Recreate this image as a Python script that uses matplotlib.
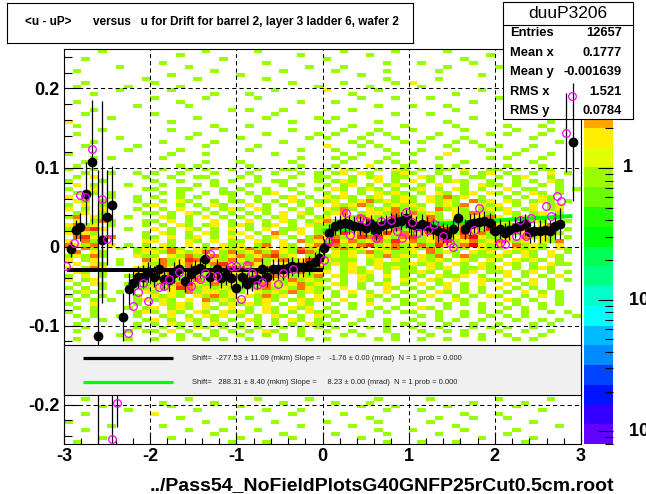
import colorsys
import numpy as np
import matplotlib
matplotlib.use('Agg')
import matplotlib.pyplot as plt
from matplotlib.colors import ListedColormap, BoundaryNorm
from matplotlib.patches import Rectangle
from matplotlib.lines import Line2D
from matplotlib.ticker import MultipleLocator, FuncFormatter

W, H = 646, 494

# ── profile points (black, filled) ─────────────────────────────────────────
blk_x = [-2.92, -2.86, -2.81, -2.74, -2.67, -2.61, -2.56, -2.50, -2.44,
         -2.31, -2.25, -2.20, -2.14, -2.08, -2.02,
         -1.95, -1.90, -1.84, -1.78, -1.72, -1.66,
         -1.59, -1.53, -1.48, -1.42, -1.36, -1.30,
         -1.23, -1.18, -1.12, -1.06, -1.00,
         -0.94, -0.88, -0.82, -0.76, -0.70,
         -0.64, -0.58, -0.52, -0.46, -0.40,
         -0.35, -0.29, -0.23, -0.16, -0.09, -0.04,
         0.02, 0.08, 0.14, 0.20, 0.26,
         0.31, 0.37, 0.43, 0.50, 0.56,
         0.62, 0.68, 0.74, 0.79, 0.85,
         0.91, 0.97,
         1.03, 1.09, 1.15, 1.21, 1.28,
         1.34, 1.40, 1.45, 1.51, 1.57,
         1.65, 1.71, 1.76, 1.82, 1.88,
         1.94, 2.00, 2.06, 2.12, 2.17,
         2.23, 2.29, 2.35, 2.41, 2.46,
         2.52, 2.58, 2.64, 2.70, 2.76,
         2.91]
blk_y = [-0.003, 0.021, 0.025, 0.067, 0.107, -0.113, 0.008, 0.037, 0.052,
         -0.089, -0.054, -0.046, -0.039, -0.038, -0.032,
         -0.038, -0.028, -0.041, -0.043, -0.033, -0.029,
         -0.044, -0.035, -0.030, -0.027, -0.016, -0.039,
         -0.029, -0.040, -0.036, -0.040, -0.052,
         -0.039, -0.047, -0.043, -0.041, -0.028,
         -0.038, -0.029, -0.028, -0.029, -0.027,
         -0.025, -0.026, -0.026, -0.024, -0.019, -0.014,
         -0.002, 0.017, 0.026, 0.028, 0.030,
         0.028, 0.026, 0.026, 0.024, 0.028,
         0.020, 0.026, 0.028, 0.030, 0.031,
         0.032, 0.036,
         0.028, 0.026, 0.028, 0.026, 0.022,
         0.019, 0.017, 0.015, 0.022, 0.036,
         0.022, 0.028, 0.030, 0.031, 0.032,
         0.030, 0.019, 0.022, 0.017, 0.021,
         0.024, 0.026, 0.028, 0.018, 0.019,
         0.019, 0.021, 0.019, 0.026, 0.029,
         0.132]
blk_err = [0.010, 0.012, 0.018, 0.040, 0.078, 0.210, 0.080, 0.060, 0.050,
           0.030, 0.020, 0.016, 0.014, 0.014, 0.013,
           0.013, 0.013, 0.013, 0.013, 0.013, 0.013,
           0.013, 0.013, 0.013, 0.013, 0.013, 0.013,
           0.013, 0.013, 0.013, 0.013, 0.013,
           0.013, 0.013, 0.013, 0.013, 0.013,
           0.013, 0.013, 0.013, 0.013, 0.013,
           0.012, 0.012, 0.012, 0.012, 0.012, 0.012,
           0.012, 0.012, 0.012, 0.012, 0.012,
           0.012, 0.012, 0.012, 0.012, 0.012,
           0.012, 0.012, 0.012, 0.012, 0.012,
           0.012, 0.012,
           0.013, 0.013, 0.013, 0.013, 0.013,
           0.013, 0.013, 0.013, 0.013, 0.015,
           0.013, 0.013, 0.013, 0.013, 0.013,
           0.013, 0.013, 0.013, 0.013, 0.013,
           0.013, 0.013, 0.013, 0.013, 0.013,
           0.014, 0.014, 0.014, 0.016, 0.020,
           0.075]

# ── second profile (magenta, open) ─────────────────────────────────────────
mag_x = [-2.98, -2.88, -2.81, -2.76, -2.68, -2.56, -2.50, -2.44, -2.39, -2.26,
         -2.20, -2.14, -2.08, -2.02, -1.90, -1.84, -1.78, -1.67, -1.53, -1.42,
         -1.36, -1.30, -1.23, -1.06, -1.00, -0.945, -0.875, -0.82, -0.76, -0.70,
         -0.52, -0.46, -0.345,
         0.02, 0.08, 0.27, 0.32, 0.44, 0.50, 0.62, 0.68, 0.79, 0.86,
         0.92, 0.97, 1.04, 1.10, 1.22, 1.29, 1.40, 1.48, 1.52, 1.76,
         1.82, 2.06, 2.12, 2.24, 2.29, 2.36, 2.42, 2.59, 2.65, 2.72,
         2.77, 2.83, 2.90]
mag_y = [-0.025, 0.005, 0.065, 0.063, 0.124, 0.060, 0.010, -0.244, -0.198, -0.110,
         -0.075, -0.058, -0.046, -0.069, -0.051, -0.050, -0.041, -0.032, -0.050, -0.041,
         -0.033, -0.010, -0.037, -0.025, -0.025, -0.067, -0.024, -0.033, -0.049, -0.045,
         -0.048, -0.033, -0.029,
         -0.017, 0.007, 0.043, 0.015, 0.036, 0.032, 0.011, 0.032, 0.034, 0.019,
         0.011, 0.044, 0.031, 0.017, 0.021, 0.029, 0.013, 0.004, 0.000, 0.021,
         0.049, 0.004, 0.003, 0.013, 0.034, 0.013, 0.036, 0.051, 0.038, 0.064,
         0.058, 0.144, 0.191]
mag_err = [0.0, 0.0, 0.0, 0.0, 0.0, 0.124, 0.0, 0.060, 0.030, 0.0,
           0.0, 0.0, 0.0, 0.0, 0.0, 0.0, 0.0, 0.0, 0.0, 0.0,
           0.0, 0.0, 0.0, 0.0, 0.0, 0.0, 0.0, 0.0, 0.0, 0.0,
           0.0, 0.0, 0.0,
           0.0, 0.0, 0.0, 0.0, 0.0, 0.0, 0.0, 0.0, 0.0, 0.0,
           0.0, 0.0, 0.0, 0.0, 0.0, 0.0, 0.0, 0.0, 0.0, 0.0,
           0.0, 0.0, 0.0, 0.0, 0.0, 0.0, 0.0, 0.0, 0.0, 0.0,
           0.0, 0.050, 0.0]

# fit lines (as drawn)
fit_black_x = [-2.97, 0.0]
fit_black_y = [-0.0292, -0.0292]
fit_green_x = [0.0, 2.90]
fit_green_y = [0.0203, 0.0386]

legend_lines = [
    "Shift=  -277.53 \u00b1 11.09 (mkm) Slope =    -1.76 \u00b1 0.00 (mrad)  N = 1 prob = 0.000",
    "Shift=   288.31 \u00b1 8.40 (mkm) Slope =     8.23 \u00b1 0.00 (mrad)  N = 1 prob = 0.000",
]

stats_title = "duuP3206"
stats_names = ["Entries", "Mean x", "Mean y", "RMS x", "RMS y"]
stats_values = ["12657", "0.1777", "-0.001639", "1.521", "0.0784"]

x_ticks = [-3, -2, -1, 0, 1, 2, 3]
y_ticks = [-0.2, -0.1, 0.0, 0.1, 0.2]
z_labels = ["1", "10$^{-1}$", "10$^{-2}$"]
z_label_vals = [1.0, 0.1, 0.01]

# 2D histogram contents, x bins of 0.1 (-3..3), y bins of 0.005 (0.25 -> -0.25)
# '.' empty, digits = bin content
rows_top = [
    "....1..... ......1... ..1....... ..1.....1. ....1..... ..1.......",
    ".......... ...1...... .......1.. .....1.... .........1 .1........",
    "..1....... ........1. .......... 1......... ......1... ....1.1...",
    ".......... .1........ ...1...... .......1.. .1.....1.. .....1....",
    "......1... ....1..... ........1. ..1....... ....1..... 1.........",
    ".1........ .......1.. .....1.... .1.....1.. ...1...... .......1..",
    ".......... ..1....... 1......... ....1..... ........1. ..1.......",
    ".........1 .....1.... ...1...... .......1.. ...1...... .1........",
    "..1....... 1......... ......1... ..1.....1. 2......... ....1.....",
    ".1.....1.. ...1...... .........1 .....1.... .1........ .......1..",
    "......1... ..1....... ....1..... 2.....1... ........1. ..1.......",
    "...1...... .......1.. .1........ ...1...... .....1.... .......1..",
    ".......... 1.....1... ..1....... ....1...1. ..1....... 1.........",
    ".1........ ...1...... .......1.. .1........ .......1.. ...1...1..",
    "........1. ....1..... .......... ......1... 1...1..... ......1...",
    "...1...... .........1 .1...1.... ...1...... .....1.... .1........",
    "..1....... 1......... ....1..... ........1. ..1....... ....1.....",
    ".....1.... .....1.... ...1.....1 .1........ .......1.. ...1......",
    "2......... ..1....... ......1... 1.....1... ....1..... ......1...",
    ".1........ .......1.. .1........ ...1.....1 .....1.... .1...1....",
    "....1..... ..1.....1. ......1... ..1...1... 1.....1... ..1...1...",
    ".1........ .....1.... ...1.....1 .1...1.1.. ...1.....1 .1...1....",
    "......1... ....1..... 1.......1. 1...1...1. ..1...1... ....1.....",
    "...1...... .1.....1.. .....1.... ...1.1...1 .1...1.1.. .......1..",
    "..1.....1. ......1... ..1....... 2...1.1... ....1...1. 1...1.....",
    ".......1.. ...1...... .1.....1.. .1.....1.. .1...1...1 ...1......",
    "1......... ..1...1... ....1..... ..1.1...1. 1...2..... ..1...1...",
    "...1.1.... .1........ .......1.. .1.1...1.. ...1.....1 .1...1....",
    "..1....... ......1... 1.....1... ..1...1.1. 1.....1... ....1.....",
    ".1........ ...1.1.... .1.....1.. .1...2...1 ...1.1.... .1...1....",
    "1..1...... .1..1.1..1 ..1..11... 1.21..1.21 .1.11.2..1 1.1..11...",
    "..1..1..1. 1..1...1.. .1..1..1.1 .12.21..12 1..1..1.12 .1..1.2.1.",
    ".1.2.....1 ..1..11... 1.1...1..1 1..1.12.11 .21.1..11. 1.12..1...",
    "1...1..... 1..1...1.1 ..1.11...1 .121..2.1. 2.1.121..1 ..1.1.21..",
    ".2.1...1.. .1...1.1.. .1...1.1.. 1.12.1.121 .1.2..1.21 1.1..1.1..",
    "1..2.....1 1..11...1. 1..1..1..1 .21.121.1. 12.1.21.1. .2.11..1.1",
    ".1.1.1.... .1.1..1.11 .1.12..1.. 1.2.1.2121 .1.21.12.2 1.1.21.1..",
    "2.1..1..1. 1..1.1...1 ..1..12.1. 2121.12.12 1.21312.1. .1.1.21...",
    ".21.1...1. .1.21..1.1 1.1.1.21.1 12.1231212 1.2121.312 .21.121.1.",
    "1.2.1....1 2..1.1.21. .2.1.1.1.2 .21231.121 21.1213.21 2.1.2.12..",
    "2.1.2...1. .1.2..1.12 1.21..1.1. 2131.21231 12.3121.12 12.12.12..",
    ".12.1....1 1.1.21.1.1 .1.1.2.21. 123.122131 3121.21321 .21.12.1..",
    "13.21..1.. .21.1.2.1. 1.1.12.1.1 2.21321251 2131.21223 2.1212.1..",
    ".2.131...1 1.2.1..2.1 .2.1.21.12 3121251231 12312.2131 12.121.21.",
    "2312.1...1 .1.21.12.1 21.12.1.21 1235123512 3125123213 2131.231..",
    "1.352..1.. 2.1.21.1.2 .1.2.112.1 2312371231 2312513215 12.3121.1.",
    "2321.....1 .21.1.21.1 2.1.31.2.1 3152312513 1232315231 2312.131..",
    ".35213...1 1.2.12.1.2 .2.12.1.13 2312535213 5123123721 12.3121.1.",
    "2.315....2 2.1.21.2.1 1.21.2.312 1523123152 3123512312 3212.213..",
    "3213.2.1.1 .21.2.1.21 2.13.21.23 5312351231 2315213721 2.3121.2..",
    "2.31..1.12 1231.21321 2312.21312 21312.2131 2131.21.21 1.2121.21.",
    ".3.21...12 2132123.13 1231321531 .212131211 2.3121.212 .2121.2.1.",
    "12131...21 1.21312312 3123512.12 1212.21312 1213.13111 21.21.21..",
    "2.12..1..3 2312531213 2131231253 2111.12.21 .2121.21.2 1.2121.1..",
    ".2.21.1..2 1312321352 1321.21312 1212.12111 2121.21.21 .21.1.211.",
    "2.132...21 2321312135 3123121323 1.121.2121 1.212.1121 2.1.121...",
    ".21.1...21 3132151312 2131251312 2.1212.1.1 121.1.12.1 12.12.1.1.",
    "1.2.1..1.2 1231321312 3121321213 .21.21.2.1 .1.2112.1. .2.1.1.2..",
    "2.12....12 2131231213 2131213121 1.1.21.1.2 1.21.2..21 1.1.2.1.1.",
    ".1.21..1.1 1213521312 1213212312 .21.1.12.1 .2.12.1.2. .2.12.1...",
    "1.1.1...11 2125312121 1213121321 1.2.1..21. 1.1.2.1.1. 2.1.1.1...",
    ".121..1..2 1.21312212 1.21213121 .1.2.1.2.1 .1.21.1.1. .1.2.1.1..",
    "1.1.1...1. 2121.21312 .21312.1.2 .1.1.21.1. 1.2..1.1.2 1..1.2.1..",
    ".1.1.1..12 121.2.3121 2.121.1212 1.2..1.1.1 .1.1.21... .21.1..1..",
    "1..2....1. .2121.2.12 1212.1.21. .1.1.2...1 1...1.1.1. 1.1..1.1..",
    ".1.1...1.1 2.121.21.2 .1.21.212. 1..1..1.1. .21.1...1. .1.1.1....",
    "1..1....12 1.21.21.21 21.21.1.21 .1...1.1.1 1..1..1.1. 1..1..1.1.",
    ".1.1..1.1. .12.1.212. 1.1.21.1.2 1.1..1.... .1.1..1..1 .1.1.....1",
    "..1.1....1 2.1.21.1.1 .21.1.21.1 .1..1..1.. 1..1.1..1. ..1..1.1..",
    ".1......1. 1.21.1.21. 1.1.1.1.21 1..1...1.1 .1..1..1.. 1...1.1...",
    "..1.....1. .1.1.21.1. 1.1..1.1.1 .1...1.1.. 1..1...1.1 .1..1.....",
    ".1.....1.1 1.2.1..1.1 .1.21..1.. 1..1...1.. .1..1.1... 1..1..1...",
    "......1... .1.1.1.1.. 1..1.1.1.. ..1.1...1. ..1...1.1. .1...1....",
    ".1.....1.. 1..1..1.1. .1...1..1. 1.....1.1. .1..1...1. ..1.1.....",
]
n_hidden_rows = 14   # behind the fit legend
rows_bottom = [
    "..1....... ....1..... ..1.....1. ......1... ..1....... 1.....1...",
    ".......... .1.....1.. .....1.... .1...1.... .......1.. ...1......",
    "....1..... ..1....... 1......... ....1...1. ....1..... ..1.......",
    ".......1.. .....1.... ...1...1.. .......1.. .1........ .....1....",
    "..1....... 2......... ......1... ..1....... ......1... 1.........",
    ".......... ...1.....1 .1........ .....1.... ...1...1.. .1........",
    "1......... ......1... ....1..... 1.....1... ..1....... ....1.....",
    ".....1.... .1........ .......1.. ...1...... .....1.... .......1..",
    "..1....... ....1...1. ..1....... ......1... 1.....1... ..1.......",
    ".......... .......1.. .....1.... .1.....1.. ...1...... .1........",
    "....1..... ..1....... 1.....1... ....1..... ........1. ....1.....",
    ".1........ .........1 ...1...... .......1.. .1...1.... ...1......",
]

plt.rcParams['font.family'] = ['Liberation Sans', 'DejaVu Sans']
plt.rcParams['axes.unicode_minus'] = False


def px_box(x0, y0, x1, y1):
    return [x0 / W, 1 - y1 / H, (x1 - x0) / W, (y1 - y0) / H]


fig = plt.figure(figsize=(W / 100, H / 100), dpi=100)
fig.patch.set_facecolor('white')

ax = fig.add_axes(px_box(64, 49, 581, 444))
ax.set_zorder(2)
cax = fig.add_axes(px_box(584, 49, 613, 444))
cax.set_zorder(1)

# ROOT "pretty palette", 20 contour levels on log z
n_lev = 20
colors = []
for j in range(n_lev):
    idx = int((j + 0.99) * 50 / n_lev)
    hue = 280 - (idx + 1) * 280 / 50
    colors.append(colorsys.hls_to_rgb(hue / 360, 0.5, 1.0))
cmap = ListedColormap(colors)
zmin, zmax = 0.008, 8.0
bounds = np.logspace(np.log10(zmin), np.log10(zmax), n_lev + 1)
norm = BoundaryNorm(bounds, n_lev)

grid_rows = ([r.replace(' ', '') for r in rows_top] + ['.' * 60] * n_hidden_rows
             + [r.replace(' ', '') for r in rows_bottom])
counts = np.array([[0 if ch == '.' else int(ch) for ch in r.ljust(60, '.')[:60]]
                   for r in grid_rows], dtype=float)
counts = np.ma.masked_equal(counts, 0)
xe = np.linspace(-3, 3, counts.shape[1] + 1)
ye = np.linspace(0.25, -0.25, counts.shape[0] + 1)
ax.pcolormesh(xe, ye, counts, cmap=cmap, norm=norm, antialiased=False, zorder=1)

ax.set_xlim(-3, 3)
ax.set_ylim(-0.25, 0.25)
ax.set_xticks(x_ticks)
ax.set_yticks(y_ticks)
ax.xaxis.set_minor_locator(MultipleLocator(0.2))
ax.yaxis.set_minor_locator(MultipleLocator(0.02))
ax.yaxis.set_major_formatter(FuncFormatter(lambda v, p: '%g' % round(v, 3)))
ax.xaxis.set_major_formatter(FuncFormatter(lambda v, p: '%g' % v))
ax.tick_params(axis='x', which='major', direction='in', length=8.6, width=0.8,
               labelsize=13, pad=3)
ax.tick_params(axis='x', which='minor', direction='in', length=4.3, width=0.8)
ax.tick_params(axis='y', which='major', direction='in', length=10.8, width=0.8,
               labelsize=13, pad=3)
ax.tick_params(axis='y', which='minor', direction='in', length=5.5, width=0.8)
for lab in ax.get_xticklabels() + ax.get_yticklabels():
    lab.set_fontweight('bold')
for s in ax.spines.values():
    s.set_linewidth(0.8)
ax.set_axisbelow(False)
ax.grid(True, which='major', color='black', linestyle=(0, (4, 3)), linewidth=0.75)

# fit lines
ax.plot(fit_black_x, fit_black_y, color='black', lw=2.9, zorder=3, solid_capstyle='butt')
ax.plot(fit_green_x, fit_green_y, color='#00ff00', lw=2.9, zorder=3, solid_capstyle='butt')

# stats box (drawn below the profile markers)
tr = fig.transFigure
ax.add_patch(Rectangle((503 / W, 1 - 119 / H), 130 / W, 117 / H, transform=tr,
                       facecolor='white', edgecolor='black', lw=0.8,
                       clip_on=False, zorder=3.5))
ax.add_line(Line2D([503 / W, 633 / W], [1 - 25 / H] * 2, transform=tr,
                   color='black', lw=0.8, clip_on=False, zorder=3.6))
ax.text(568 / W, 1 - 14 / H, stats_title, transform=tr, ha='center', va='center',
        fontsize=12.5, zorder=3.7)
for i, (nm, val) in enumerate(zip(stats_names, stats_values)):
    yy = 1 - (33 + 19.5 * i) / H
    ax.text(510 / W, yy, nm, transform=tr, ha='left', va='center',
            fontsize=9.3, fontweight='bold', zorder=3.7)
    ax.text(622 / W, yy, val, transform=tr, ha='right', va='center',
            fontsize=9.3, fontweight='bold', zorder=3.7)

ax.errorbar(blk_x, blk_y, yerr=blk_err, fmt='o', color='black', ms=6,
            elinewidth=0.9, capsize=0, zorder=4)
ax.errorbar(mag_x, mag_y, yerr=mag_err, fmt='o', mfc='none', mec='#ff00ff',
            ecolor='black', ms=5.5, mew=0.9, elinewidth=0.9, capsize=0, zorder=5)

# palette axis
cax.pcolormesh([0, 1], bounds, np.arange(n_lev).reshape(-1, 1), cmap=cmap,
               vmin=-0.5, vmax=n_lev - 0.5)
cax.set_yscale('log')
cax.set_ylim(zmin, zmax)
cax.set_xlim(0, 1)
cax.set_xticks([])
cax.yaxis.tick_right()
cax.tick_params(axis='y', which='major', direction='in', length=10.5, width=0.8,
                labelright=False, left=False, right=True)
cax.tick_params(axis='y', which='minor', direction='in', length=5.5, width=0.8,
                labelright=False, left=False, right=True)
for s in cax.spines.values():
    s.set_visible(False)
for lab, v in zip(z_labels, z_label_vals):
    frac = (np.log10(v) - np.log10(zmin)) / (np.log10(zmax) - np.log10(zmin))
    ytop = 444 - frac * 395
    xl = 623 if lab == "1" else 628
    fig.text(xl / W, 1 - ytop / H, lab, ha='left', va='center', fontsize=13,
             fontweight='bold')

# fit legend
lax = fig.add_axes(px_box(64, 345, 581, 395))
lax.set_zorder(3)
lax.set_facecolor('#f0f0f0')
lax.set_xlim(64, 581)
lax.set_ylim(395, 345)
lax.set_xticks([])
lax.set_yticks([])
for s in lax.spines.values():
    s.set_linewidth(0.8)
lax.plot([83, 173], [358, 358], color='black', lw=2.3, solid_capstyle='butt')
lax.plot([83, 173], [382, 382], color='#00ff00', lw=2.3, solid_capstyle='butt')
lax.text(192, 358, legend_lines[0], ha='left', va='center', fontsize=5.5, color='#222222')
lax.text(192, 382, legend_lines[1], ha='left', va='center', fontsize=5.5, color='#222222')

# title box
tax = fig.add_axes(px_box(7, 3, 413, 43))
tax.set_xticks([])
tax.set_yticks([])
tax.set_xlim(7, 413)
tax.set_ylim(43, 3)
for s in tax.spines.values():
    s.set_linewidth(0.8)
tax.text(25, 22, "<u - uP>", ha='left', va='center', fontsize=8.5, fontweight='bold')
tax.text(93, 22, "versus   u for Drift for barrel 2, layer 3 ladder 6, wafer 2",
         ha='left', va='center', fontsize=8.5, fontweight='bold')

fig.text(614 / W, 1 - 486 / H, "../Pass54_NoFieldPlotsG40GNFP25rCut0.5cm.root",
         ha='right', va='center', fontsize=14, fontweight='bold')

fig.savefig('out.png', dpi=100)
